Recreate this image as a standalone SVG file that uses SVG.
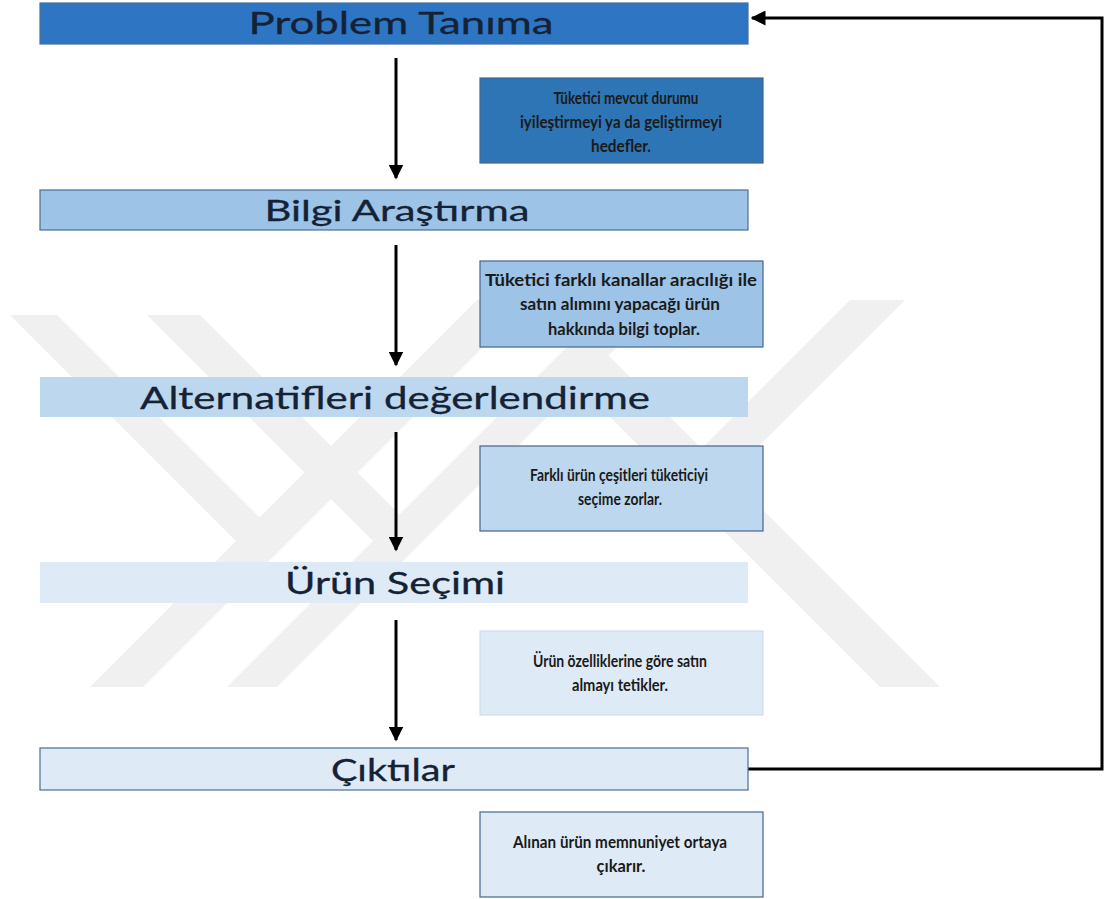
<svg xmlns="http://www.w3.org/2000/svg" width="1105" height="899" viewBox="0 0 1105 899">
<defs>
<style>
.wm{fill:#f0f0f0}
.step{stroke:#4a6f99;stroke-width:1.2}
.note{stroke:#44658c;stroke-width:1.2}
.title{font-family:Lato,"Liberation Sans",sans-serif;fill:#152236;stroke:#152236;stroke-width:0.3;text-anchor:middle}
.ntext{font-family:Lato,"Liberation Sans",sans-serif;font-weight:700;font-size:17.5px;fill:#1a1a1a;text-anchor:middle}
.conn{stroke:#000;stroke-width:3;fill:none}
</style>
<marker id="ah" viewBox="0 0 10 10" refX="9" refY="5" markerWidth="5" markerHeight="5" markerUnits="strokeWidth" orient="auto">
<path d="M0,0 L10,5 L0,10 Z" fill="#000"/>
</marker>
</defs>
<rect width="1105" height="899" fill="#ffffff"/>
<g id="watermark">
<polygon class="wm" points="10,315 57,315 259.5,517.5 236,541"/>
<polygon class="wm" points="90,687 143,687 530,300 477,300"/>
<polygon class="wm" points="147,315 200,315 399.5,514.5 373,541"/>
<polygon class="wm" points="227,687 277,687 664,300 614,300"/>
<polygon class="wm" points="608.5,355.5 578.5,385.5 880,687 940,687"/>
<polygon class="wm" points="850,300 905,300 729,476 701.5,448.5"/>
</g>
<g id="connectors">
<line class="conn" x1="396" y1="58" x2="396" y2="178" marker-end="url(#ah)"/>
<line class="conn" x1="396" y1="245" x2="396" y2="365" marker-end="url(#ah)"/>
<line class="conn" x1="396" y1="432" x2="396" y2="550" marker-end="url(#ah)"/>
<line class="conn" x1="396" y1="620" x2="396" y2="740" marker-end="url(#ah)"/>
<polyline class="conn" points="748,769 1102,769 1102,18 752,18" marker-end="url(#ah)"/>
</g>
<g id="n-problem">
<rect class="step" x="40" y="3" width="708" height="41" fill="#2E75C3"/>
<text class="title" x="401" y="34" font-size="30" textLength="305" lengthAdjust="spacingAndGlyphs">Problem Tanıma</text>
</g>
<g id="note-1">
<rect class="note" x="480" y="78" width="283" height="85" fill="#2E75B6"/>
<text class="ntext" x="626" y="104" textLength="145" lengthAdjust="spacingAndGlyphs">Tüketici mevcut durumu</text>
<text class="ntext" x="621" y="128" textLength="202" lengthAdjust="spacingAndGlyphs">iyileştirmeyi ya da geliştirmeyi</text>
<text class="ntext" x="621" y="152" textLength="60" lengthAdjust="spacingAndGlyphs">hedefler.</text>
</g>
<g id="n-bilgi">
<rect class="step" x="40" y="190" width="708" height="40" fill="#9DC3E6"/>
<text class="title" x="397" y="221" font-size="28" textLength="265" lengthAdjust="spacingAndGlyphs">Bilgi Araştırma</text>
</g>
<g id="note-2">
<rect class="note" x="480" y="261" width="283" height="86" fill="#9DC3E6"/>
<text class="ntext" x="621" y="286" textLength="272" lengthAdjust="spacingAndGlyphs">Tüketici farklı kanallar aracılığı ile</text>
<text class="ntext" x="620" y="310" textLength="200" lengthAdjust="spacingAndGlyphs">satın alımını yapacağı ürün</text>
<text class="ntext" x="624" y="335" textLength="152" lengthAdjust="spacingAndGlyphs">hakkında bilgi toplar.</text>
</g>
<g id="n-alternatif">
<rect x="40" y="377" width="708" height="40" fill="#BDD7EE"/>
<text class="title" x="395" y="409" font-size="31" textLength="510" lengthAdjust="spacingAndGlyphs">Alternatifleri değerlendirme</text>
</g>
<g id="note-3">
<rect class="note" x="480" y="446" width="283" height="85" fill="#BDD7EE"/>
<text class="ntext" x="619" y="481" textLength="178" lengthAdjust="spacingAndGlyphs">Farklı ürün çeşitleri tüketiciyi</text>
<text class="ntext" x="620" y="505" textLength="84" lengthAdjust="spacingAndGlyphs">seçime zorlar.</text>
</g>
<g id="n-urun">
<rect x="40" y="562" width="708" height="41" fill="#DEEBF7"/>
<text class="title" x="395" y="594" font-size="30" textLength="220" lengthAdjust="spacingAndGlyphs">Ürün Seçimi</text>
</g>
<g id="note-4">
<rect x="480" y="631" width="283" height="84" fill="#DEEBF7" stroke="#c9d8ea" stroke-width="1"/>
<text class="ntext" x="620" y="667" textLength="174" lengthAdjust="spacingAndGlyphs">Ürün özelliklerine göre satın</text>
<text class="ntext" x="620" y="691" textLength="96" lengthAdjust="spacingAndGlyphs">almayı tetikler.</text>
</g>
<g id="n-ciktilar">
<rect class="step" x="40" y="748" width="708" height="42" fill="#DEEBF7"/>
<text class="title" x="393" y="781" font-size="30" textLength="124" lengthAdjust="spacingAndGlyphs">Çıktılar</text>
</g>
<g id="note-5">
<rect class="note" x="480" y="812" width="283" height="85" fill="#DEEBF7"/>
<text class="ntext" x="620" y="848" textLength="214" lengthAdjust="spacingAndGlyphs">Alınan ürün memnuniyet ortaya</text>
<text class="ntext" x="621" y="872" textLength="49" lengthAdjust="spacingAndGlyphs">çıkarır.</text>
</g>
</svg>
